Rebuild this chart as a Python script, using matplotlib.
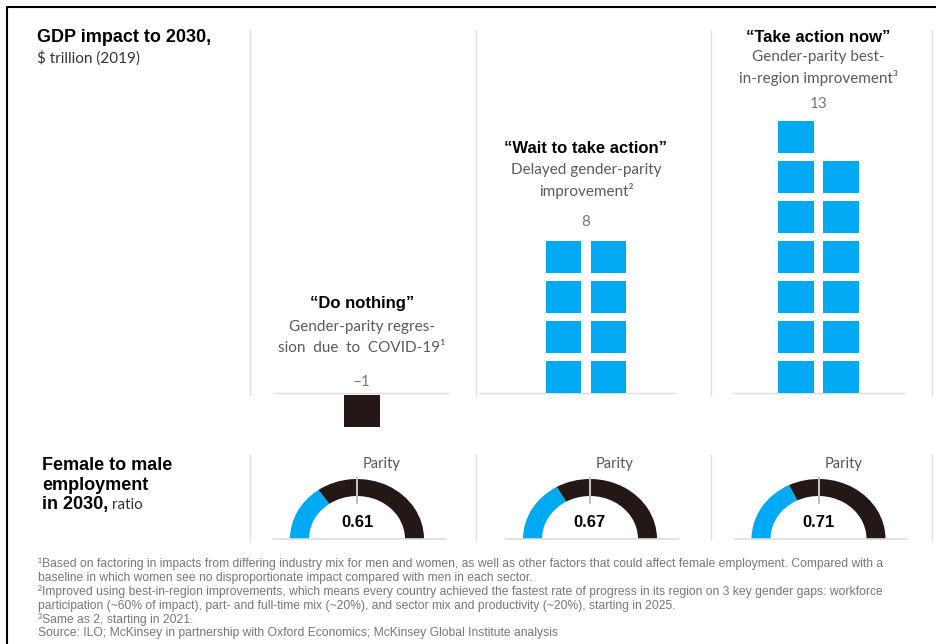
import matplotlib
matplotlib.use("Agg")
import matplotlib.pyplot as plt
from matplotlib.patches import Rectangle, Wedge

# Data
scenarios = ["\u201cDo nothing\u201d", "\u201cWait to take action\u201d", "\u201cTake action now\u201d"]
subtitles = [
    ["Gender-parity regres-", "sion  due  to  COVID-19\u00b9"],
    ["Delayed gender-parity", "improvement\u00b2"],
    ["Gender-parity best-", "in-region improvement\u00b3"],
]
gdp_impact = [-1, 8, 13]
value_labels = ["\u20131", "8", "13"]
employment_ratio = [0.61, 0.67, 0.71]
parity = 1.0
footnotes = [
    "\u00b9Based on factoring in impacts from differing industry mix for men and women, as well as other factors that could affect female employment. Compared with a",
    "baseline in which women see no disproportionate impact compared with men in each sector.",
    "\u00b2Improved using best-in-region improvements, which means every country achieved the fastest rate of progress in its region on 3 key gender gaps: workforce",
    "participation (~60% of impact), part- and full-time mix (~20%), and sector mix and productivity (~20%), starting in 2025.",
    "\u00b3Same as 2, starting in 2021.",
    "Source: ILO; McKinsey in partnership with Oxford Economics; McKinsey Global Institute analysis",
]

BLUE = "#00a9f4"
DARK = "#231815"
GRID = "#dddddd"
W, H = 936, 644

fig = plt.figure(figsize=(W / 100, H / 100), dpi=100)


def px_axes(x, y, w, h):
    # axes from a pixel rectangle (top-left origin)
    return fig.add_axes([x / W, 1 - (y + h) / H, w / W, h / H])


# overlay for text and rules, in pixel coords
ax = px_axes(0, 0, W, H)
ax.set_xlim(0, W)
ax.set_ylim(H, 0)
ax.axis("off")

# outer frame
ax.plot([7, 7, W + 5], [H + 5, 7, 7], color="black", lw=1.5, clip_on=False)

# separators
for x in [250, 476, 711, 932]:
    ax.plot([x, x], [30, 395], color=GRID, lw=1)
    ax.plot([x, x], [455, 540], color=GRID, lw=1)

title_font = dict(family="Liberation Sans", weight="bold", color="black")
light_font = dict(family="Lato", weight="normal", color="#5a5a5a")

ax.text(37, 37, "GDP impact to 2030,", fontsize=13, va="center", ha="left", **title_font)
ax.text(37, 58, "$ trillion (2019)", fontsize=11, va="center", ha="left", family="Lato", color="#333333")

ax.text(42, 465, "Female to male", fontsize=13, va="center", **title_font)
ax.text(42, 485, "employment", fontsize=13, va="center", **title_font)
t = ax.text(42, 505, "in 2030,", fontsize=13, va="center", **title_font)
ax.annotate(" ratio", xy=(1, 0.5), xycoords=t, va="center", ha="left",
            fontsize=11, family="Lato", color="#333333")

# squares panels
centers = [362, 586, 818.5]
baselines = [(275, 448), (480, 675), (733, 904)]
heading_y = [(303, 327, 348, 382), (148, 170, 191, 222), (37, 57, 78, 104)]
base_y = 393
for i, v in enumerate(gdp_impact):
    cx = centers[i]
    pax = px_axes(cx - 90, 100, 180, 330)
    pax.set_xlim(-2, 2)
    pax.set_ylim(-(430 - base_y) / 40, (base_y - 100) / 40)
    pax.axis("off")
    n = abs(v)
    sign = 1 if v > 0 else -1
    cols = 2 if n > 1 else 1
    for k in range(n):
        row, col = divmod(k, cols)
        x0 = (col - cols / 2) * 1.0 + 0.11 if cols == 2 else -0.39
        if sign > 0:
            y0 = row + 0.0
        else:
            y0 = -(row + 0.8) - 0.05
        color = BLUE if sign > 0 else DARK
        pax.add_patch(Rectangle((x0, y0), 0.78, 0.8, facecolor=color, edgecolor="none"))

    ax.plot(baselines[i], [base_y, base_y], color=GRID, lw=1)
    hy, s1, s2, vy = heading_y[i]
    ax.text(cx, hy, scenarios[i], ha="center", va="center", fontsize=12, **title_font)
    ax.text(cx, s1, subtitles[i][0], ha="center", va="center", fontsize=11, **light_font)
    ax.text(cx, s2, subtitles[i][1], ha="center", va="center", fontsize=11, **light_font)
    ax.text(cx, vy, value_labels[i], ha="center", va="center", fontsize=11,
            family="Lato", color="#777777")

# gauges
gauge_centers = [357, 590, 818.5]
gauge_base = 539
rx, ry = 67, 60
for i, r in enumerate(employment_ratio):
    cx = gauge_centers[i]
    gax = px_axes(cx - 90, gauge_base - 64, 180, 64)
    gax.set_xlim(-90 / rx, 90 / rx)
    gax.set_ylim(0, 64 / ry)
    gax.axis("off")
    split = 180 - r / parity * 90
    width = 1 - 48 / 67
    gax.add_patch(Wedge((0, 0), 1, split, 180, width=width, facecolor=BLUE, edgecolor="none"))
    gax.add_patch(Wedge((0, 0), 1, 0, split, width=width, facecolor=DARK, edgecolor="none"))
    gax.plot([0, 0], [0.6, 1.02], color="#c0c0c0", lw=1.5)
    gax.text(0, 0.28, f"{r:.2f}", ha="center", va="center", fontsize=12,
             family="Liberation Sans", weight="bold")
    gax.axhline(0, xmin=(cx - 84 - (cx - 90)) / 180, xmax=(cx + 88 - (cx - 90)) / 180,
                color=GRID, lw=1.2, clip_on=False)
    ax.text(cx + 25, 464, "Parity", ha="center", va="center", fontsize=10.5,
            family="Lato", color="#555555")

# footnotes
fy = [564, 578, 592, 606, 620, 633]
for y, line in zip(fy, footnotes):
    ax.text(38, y, line, ha="left", va="center", fontsize=8.7,
            family="Liberation Sans", color="#777777")

fig.savefig("out.png", dpi=100)
